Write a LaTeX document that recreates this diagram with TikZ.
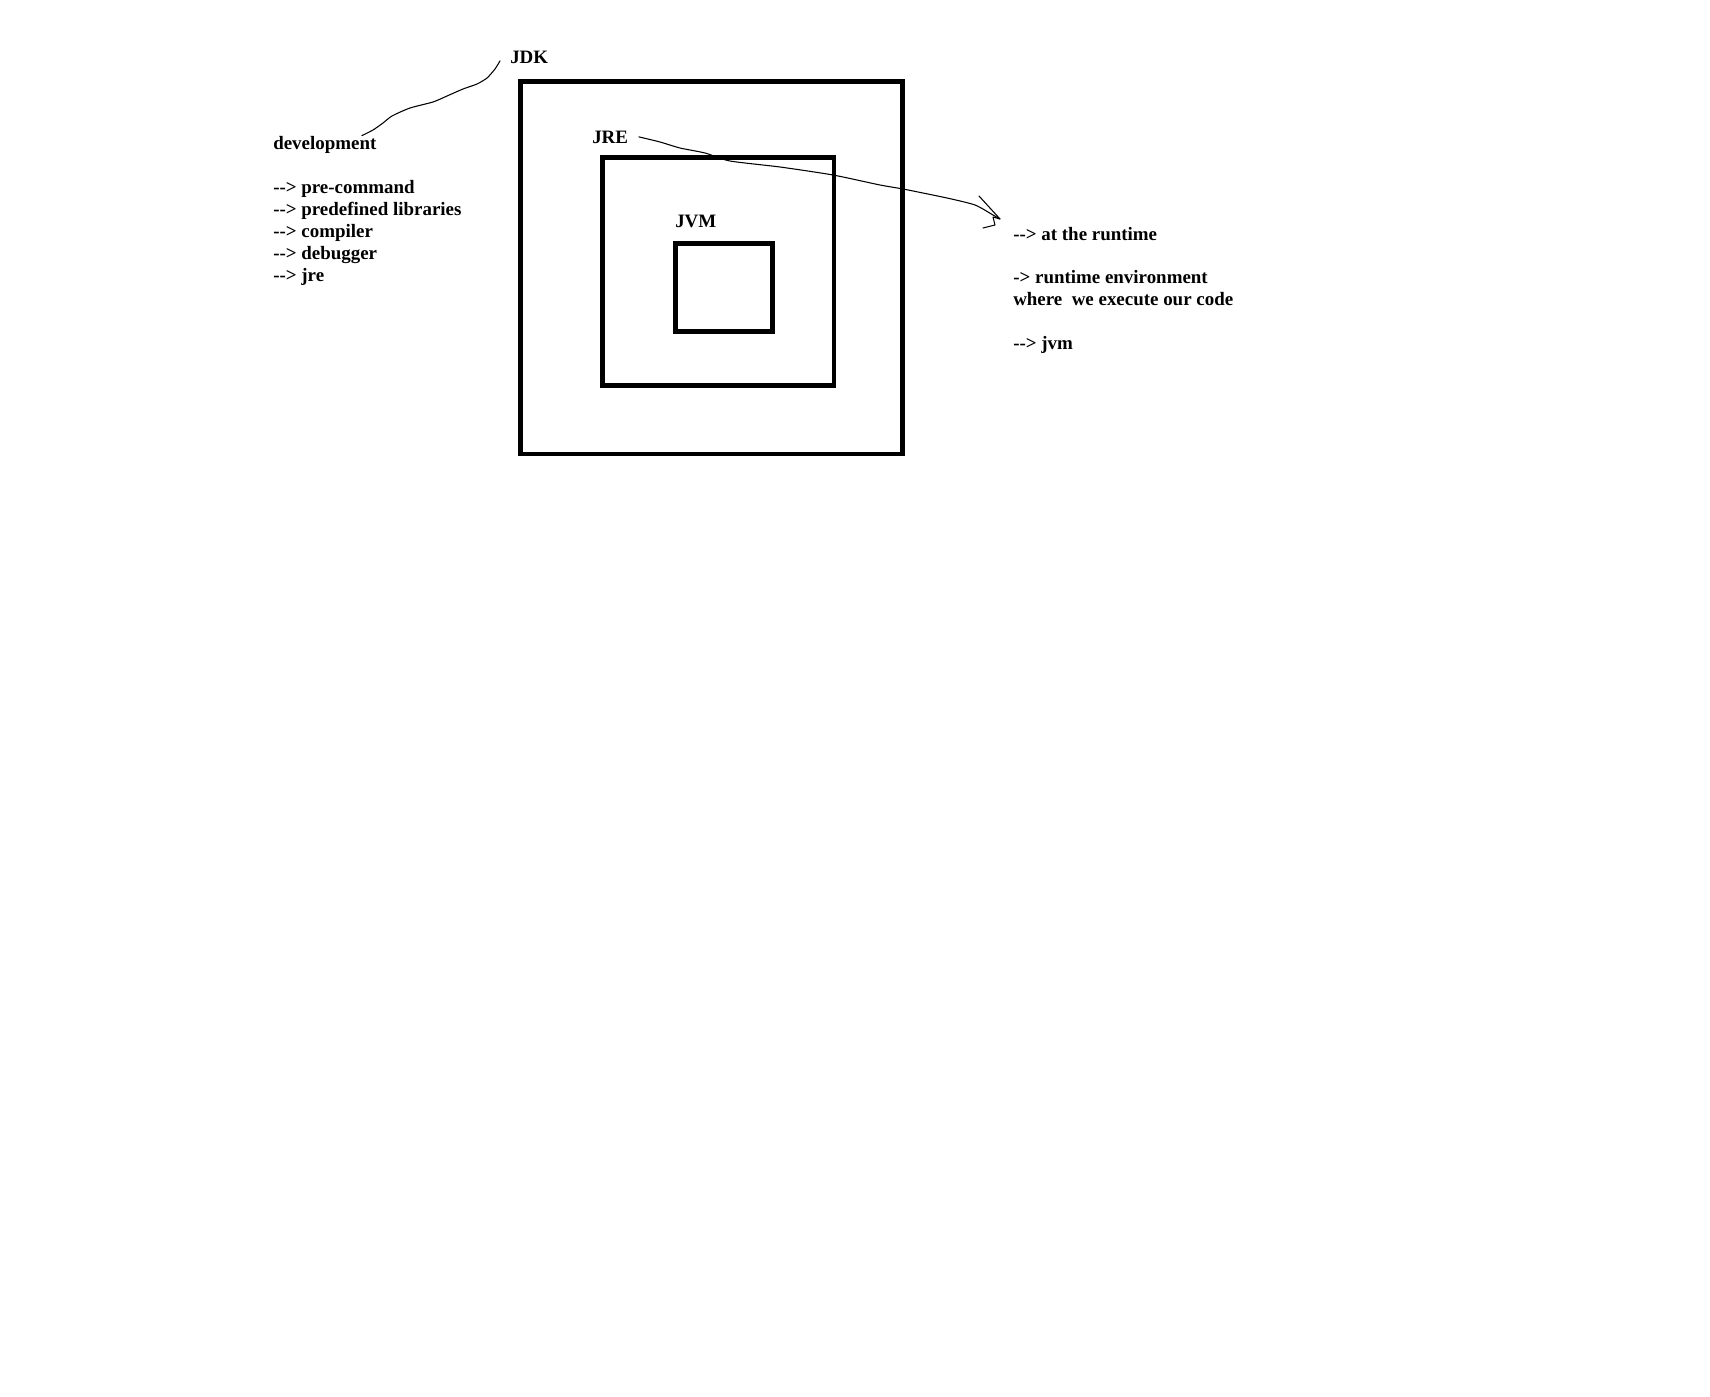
\documentclass[tikz,border=0pt]{standalone}
\usepackage{fontspec}
\setmainfont{Liberation Serif}[Ligatures=TeXOff]
\usetikzlibrary{positioning}

\begin{document}
\begin{tikzpicture}[
        x=0.75pt, y=-0.75pt,
        layer_box/.style={draw, line width=3.5pt},
        tag/.style={anchor=base west, inner sep=0pt, font=\fontsize{14.2pt}{16pt}\selectfont\bfseries},
        scribble/.style={line width=0.8pt, line join=round, line cap=round}
    ]
    \useasboundingbox (0,0) rectangle (1710,1396);

    % --- Nested boxes: JDK > JRE > JVM ---
    \draw[layer_box] (520.7,81.7) rectangle (902.7,454);
    \draw[layer_box] (602.7,157.3) rectangle (834,385.7);
    \draw[layer_box] (675.7,243.7) rectangle (772.3,331.7);

    \node[tag] (jdk) at (510,63) {JDK};
    \node[tag] (jre) at (592,143) {JRE};
    \node[tag] (jvm) at (675,227) {JVM};

    % --- Left: development notes ---
    \node[tag] (dev) at (273,149) {development};
    \node[tag] (dev1) at (273,193) {--> pre-command};
    \node[tag] (dev2) at (273,215) {--> predefined libraries};
    \node[tag] (dev3) at (273,237) {--> compiler};
    \node[tag] (dev4) at (273,259) {--> debugger};
    \node[tag] (dev5) at (273,281) {--> jre};

    % --- Right: runtime notes ---
    \node[tag] (run1) at (1013,240) {--> at the runtime};
    \node[tag] (run2) at (1013,283) {-> runtime environment};
    \node[tag] (run3) at (1013,305) {where~ we execute our code};
    \node[tag] (run4) at (1013,349) {--> jvm};

    % hand drawn link: development -- JDK
    \draw[scribble] plot[smooth, tension=0.4] coordinates {
        ([xshift=-11pt]dev.north east) (373,130) (383,123) (392,116) (410,108)
        (433,102) (447,96) (463,89) (477,84) (487,78) (495,69) ([xshift=-7.5pt,yshift=-3pt]jdk.west)};

    % hand drawn arrow: JRE -> runtime notes
    \coordinate (tip) at (1000,219);
    \draw[scribble] plot[smooth, tension=0.4] coordinates {
        ([xshift=8pt]jre.east) (660,142) (680,148) (705,153) (730,161) (780,167)
        (833,175) (880,185) (903,189) (947,198) (975,205) (993,215) (tip)};
    \draw[scribble] (979,196) -- (tip) -- (993,217) -- (995,225) -- (983,228);

\end{tikzpicture}
\end{document}
